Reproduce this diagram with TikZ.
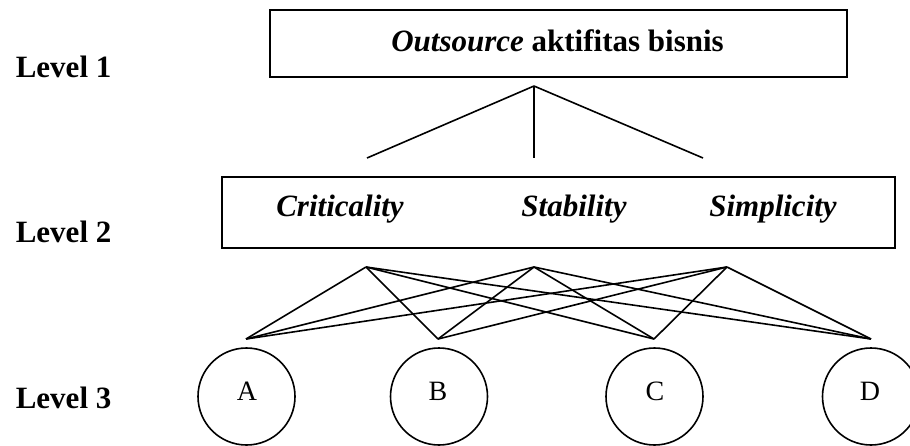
\documentclass[tikz,border=0pt]{standalone}
\usepackage{fontspec}
\setmainfont{Liberation Serif}
\begin{document}
\begin{tikzpicture}[x=1pt,y=-1pt, line width=1.6pt,
  box/.style={draw, rectangle, inner sep=0pt},
  lvl/.style={anchor=base west, inner sep=0pt, font=\fontsize{31}{36}\selectfont\bfseries},
  goaltext/.style={anchor=base, inner sep=0pt, font=\fontsize{31}{36}\selectfont\bfseries},
  crit/.style={anchor=base, inner sep=0pt, font=\fontsize{31}{36}\selectfont\bfseries\itshape},
  alt/.style={draw, circle, minimum size=97pt, inner sep=0pt},
  altlab/.style={anchor=base, inner sep=0pt, font=\fontsize{28}{32}\selectfont},
  conn/.style={line width=1.6pt}]
\useasboundingbox (0,0) rectangle (910,445);

% Level labels
\node[lvl] (l1) at (15,77) {Level 1};
\node[lvl] (l2) at (15,242) {Level 2};
\node[lvl] (l3) at (15,408) {Level 3};

% Level 1 box
\node[box, minimum width=577pt, minimum height=67pt] (goal) at (558.5,43.5) {};
\node[goaltext] (goalt) at (557.5,51) {\textit{Outsource} aktifitas bisnis};

% Level 2 box
\node[box, minimum width=673pt, minimum height=71pt] (critbox) at (558.5,212.5) {};
\node[crit] (t1) at (340,216) {Criticality};
\node[crit] (t2) at (574,216) {Stability};
\node[crit] (t3) at (773,216) {Simplicity};

% connector points
\coordinate (g) at (534,86);
\coordinate (c1) at (367,158);
\coordinate (c2) at (534,158);
\coordinate (c3) at (703,158);
\foreach \t in {c1,c2,c3} \draw[conn] (g) -- (\t);

\coordinate (b1) at (366,267);
\coordinate (b2) at (534,267);
\coordinate (b3) at (727,267);
\coordinate (a1) at (246,339);
\coordinate (a2) at (438,339);
\coordinate (a3) at (654,339);
\coordinate (a4) at (871,339);
\foreach \s in {b1,b2,b3}
  \foreach \t in {a1,a2,a3,a4}
    \draw[conn] (\s) -- (\t);

% Level 3 alternatives
\node[alt] (A) at (246.5,396.5) {};
\node[alt] (B) at (439,396.5) {};
\node[alt] (C) at (654.5,396.5) {};
\node[alt] (D) at (871,396.5) {};
\node[altlab] (lA) at (247,400) {A};
\node[altlab] (lB) at (438,400) {B};
\node[altlab] (lC) at (655,400) {C};
\node[altlab] (lD) at (870,400) {D};
\end{tikzpicture}
\end{document}
